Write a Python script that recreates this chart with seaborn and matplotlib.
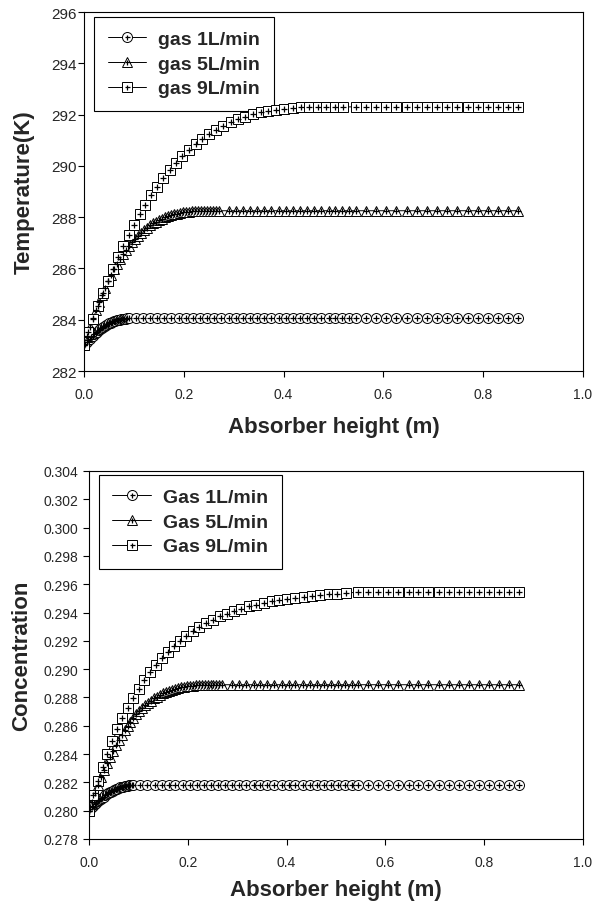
import matplotlib
matplotlib.use('Agg')
import matplotlib.pyplot as plt
from matplotlib.lines import Line2D
from matplotlib.ticker import FormatStrFormatter, MultipleLocator
import pandas as pd
import seaborn as sns

# ---- absorber height (m) ----
x_1L_rise = [0.000, 0.003, 0.006, 0.009, 0.012, 0.015, 0.018, 0.021, 0.024, 0.027,
             0.030, 0.033, 0.036, 0.039, 0.042, 0.045, 0.048, 0.051, 0.054, 0.057,
             0.060, 0.063, 0.066, 0.069, 0.072, 0.075, 0.078, 0.081, 0.084, 0.087, 0.090]
x_5L_rise = [0.000, 0.006, 0.012, 0.018, 0.024, 0.030, 0.036, 0.042, 0.048, 0.054,
             0.060, 0.066, 0.072, 0.078, 0.084, 0.090, 0.096, 0.102, 0.108, 0.114,
             0.120, 0.126, 0.132, 0.138, 0.144, 0.150, 0.156, 0.162, 0.168, 0.174,
             0.180, 0.186, 0.192, 0.198, 0.204, 0.210, 0.216, 0.222, 0.228, 0.234,
             0.240, 0.246, 0.252, 0.258, 0.264, 0.270]
x_9L_rise = [0.0000, 0.0090, 0.0182, 0.0277, 0.0374, 0.0473, 0.0574, 0.0678, 0.0784, 0.0892,
             0.1003, 0.1116, 0.1231, 0.1349, 0.1468, 0.1590, 0.1715, 0.1841, 0.1970, 0.2102,
             0.2235, 0.2371, 0.2509, 0.2649, 0.2792, 0.2937, 0.3084, 0.3234, 0.3386, 0.3540,
             0.3696, 0.3855, 0.4016, 0.4179, 0.4345, 0.4513, 0.4683, 0.4855, 0.5030, 0.5200]
x_mid = [0.104, 0.118, 0.133, 0.147, 0.161, 0.175, 0.190, 0.204, 0.218, 0.233,
         0.247, 0.261, 0.275, 0.290, 0.304, 0.318, 0.333, 0.347, 0.361, 0.375,
         0.390, 0.404, 0.418, 0.433, 0.447, 0.461, 0.475, 0.490, 0.504, 0.518, 0.532]
x_tail = [0.545, 0.565, 0.586, 0.606, 0.626, 0.647, 0.667, 0.687, 0.708, 0.728,
          0.748, 0.769, 0.789, 0.809, 0.830, 0.850, 0.870]

# ---- temperature (K) ----
T_1L_rise = [283.000, 283.069, 283.135, 283.200, 283.261, 283.321, 283.378, 283.433, 283.485, 283.536,
             283.583, 283.629, 283.672, 283.713, 283.751, 283.788, 283.821, 283.853, 283.882, 283.909,
             283.933, 283.956, 283.975, 283.993, 284.008, 284.021, 284.031, 284.040, 284.045, 284.049,
             284.050]
T_5L_rise = [283.000, 283.375, 283.731, 284.069, 284.389, 284.691, 284.976, 285.245, 285.498, 285.736,
             285.959, 286.168, 286.364, 286.546, 286.715, 286.873, 287.018, 287.153, 287.277, 287.391,
             287.495, 287.591, 287.677, 287.755, 287.825, 287.889, 287.945, 287.995, 288.039, 288.077,
             288.110, 288.139, 288.163, 288.183, 288.200, 288.213, 288.224, 288.232, 288.239, 288.243,
             288.246, 288.248, 288.249, 288.250, 288.250, 288.250]
T_9L_rise = [283.00, 283.52, 284.03, 284.54, 285.03, 285.51, 285.98, 286.43, 286.88, 287.30,
             287.71, 288.11, 288.49, 288.85, 289.19, 289.51, 289.82, 290.10, 290.37, 290.62,
             290.84, 291.05, 291.24, 291.41, 291.57, 291.70, 291.82, 291.92, 292.01, 292.09,
             292.15, 292.19, 292.23, 292.26, 292.28, 292.29, 292.30, 292.30, 292.30, 292.30]
T_plateau = {'1L': 284.05, '5L': 288.25, '9L': 292.30}

# ---- concentration ----
C_1L_rise = [0.28000, 0.28012, 0.28023, 0.28034, 0.28045, 0.28055, 0.28065, 0.28074, 0.28083, 0.28092,
             0.28100, 0.28108, 0.28115, 0.28122, 0.28129, 0.28135, 0.28141, 0.28146, 0.28151, 0.28156,
             0.28160, 0.28164, 0.28167, 0.28170, 0.28173, 0.28175, 0.28177, 0.28178, 0.28179, 0.28180,
             0.28180]
C_5L_rise = [0.28000, 0.28064, 0.28124, 0.28181, 0.28235, 0.28287, 0.28335, 0.28381, 0.28423, 0.28464,
             0.28502, 0.28537, 0.28570, 0.28601, 0.28630, 0.28657, 0.28681, 0.28704, 0.28725, 0.28744,
             0.28762, 0.28778, 0.28793, 0.28806, 0.28818, 0.28829, 0.28838, 0.28847, 0.28854, 0.28861,
             0.28866, 0.28871, 0.28875, 0.28879, 0.28882, 0.28884, 0.28886, 0.28887, 0.28888, 0.28889,
             0.28889, 0.28890, 0.28890, 0.28890, 0.28890, 0.28890]
C_9L_rise = [0.28000, 0.28108, 0.28211, 0.28310, 0.28403, 0.28491, 0.28574, 0.28653, 0.28727, 0.28796,
             0.28861, 0.28921, 0.28977, 0.29030, 0.29078, 0.29123, 0.29164, 0.29202, 0.29237, 0.29270,
             0.29299, 0.29326, 0.29350, 0.29373, 0.29393, 0.29411, 0.29428, 0.29443, 0.29456, 0.29468,
             0.29479, 0.29489, 0.29497, 0.29505, 0.29512, 0.29518, 0.29523, 0.29528, 0.29532, 0.29536]
C_plateau = {'1L': 0.28180, '5L': 0.28890, '9L': 0.29545}

flows = ['1L', '5L', '9L']
markers = {'1L': ('o', 7.2), '5L': ('^', 7.6), '9L': ('s', 6.6)}


def series_xy(flow, rise_y, level):
    # rising part, then the flat part continuing to the end of the column
    if flow == '1L':
        xs, flat = x_1L_rise, x_mid + x_tail
    elif flow == '5L':
        xs, flat = x_5L_rise, [v for v in x_mid if v > 0.28] + x_tail
    else:
        xs, flat = x_9L_rise, x_tail
    x = list(xs) + flat
    y = list(rise_y) + [level] * len(flat)
    return pd.DataFrame({'x': x, 'y': y})


def draw(ax, flow, df):
    m, ms = markers[flow]
    sns.lineplot(data=df, x='x', y='y', ax=ax, sort=False, estimator=None,
                 color='black', linewidth=0.7, marker=m, markersize=ms,
                 markerfacecolor='white', markeredgecolor='black', markeredgewidth=0.7)
    sns.scatterplot(data=df, x='x', y='y', ax=ax, marker='+', s=13,
                    color='black', linewidth=0.9, zorder=3)


def legend_handles():
    hs = []
    for f in flows:
        m, ms = markers[f]
        h1 = Line2D([], [], color='black', lw=0.7, marker=m, markersize=ms,
                    markerfacecolor='white', markeredgecolor='black', markeredgewidth=0.7)
        h2 = Line2D([], [], ls='', marker='+', markersize=3.6, color='black', markeredgewidth=0.9)
        hs.append((h1, h2))
    return hs


sns.set_style('white')
plt.rcParams['font.family'] = ['Liberation Sans', 'DejaVu Sans']

fig = plt.figure(figsize=(6.06, 9.04), dpi=100)
ax1 = fig.add_axes([84 / 606, 1 - 372 / 904, 499 / 606, 359 / 904])
ax2 = fig.add_axes([89 / 606, 1 - 840 / 904, 494 / 606, 368 / 904])

rise_T = {'1L': T_1L_rise, '5L': T_5L_rise, '9L': T_9L_rise}
rise_C = {'1L': C_1L_rise, '5L': C_5L_rise, '9L': C_9L_rise}
for f in flows:
    draw(ax1, f, series_xy(f, rise_T[f], T_plateau[f]))
    draw(ax2, f, series_xy(f, rise_C[f], C_plateau[f]))

for ax in (ax1, ax2):
    ax.set_xlim(0, 1.0)
    ax.xaxis.set_major_locator(MultipleLocator(0.2))
    ax.xaxis.set_major_formatter(FormatStrFormatter('%.1f'))
    ax.tick_params(direction='out', length=4, width=0.8, color='black',
                   labelsize=10, bottom=True, left=True)
    ax.tick_params(axis='x', pad=7.5)
    for s in ax.spines.values():
        s.set_color('black')
        s.set_linewidth(0.8)

ax1.set_xlabel('Absorber height (m)', fontsize=16, fontweight='bold', labelpad=10.5)
ax2.set_xlabel('Absorber height (m)', fontsize=16, fontweight='bold', labelpad=7)

ax1.set_ylim(282, 296)
ax1.yaxis.set_major_locator(MultipleLocator(2))
ax1.tick_params(axis='y', labelsize=11, pad=1)
ax1.set_ylabel('Temperature(K)', fontsize=16, fontweight='bold', labelpad=12)

ax2.set_ylim(0.278, 0.304)
ax2.yaxis.set_major_locator(MultipleLocator(0.002))
ax2.yaxis.set_major_formatter(FormatStrFormatter('%.3f'))
ax2.set_ylabel('Concentration', fontsize=16, fontweight='bold', labelpad=8)

leg_kw = dict(loc='upper left', frameon=True, fancybox=False, edgecolor='black',
              framealpha=1, prop={'weight': 'bold', 'size': 14}, handlelength=2.0,
              handletextpad=0.6, borderpad=0.7, labelspacing=0.36, borderaxespad=0)
l1 = ax1.legend(legend_handles(), ['gas 1L/min', 'gas 5L/min', 'gas 9L/min'],
                bbox_to_anchor=(0.02, 0.986), **leg_kw)
l2 = ax2.legend(legend_handles(), ['Gas 1L/min', 'Gas 5L/min', 'Gas 9L/min'],
                bbox_to_anchor=(0.02, 0.989), **leg_kw)
for l in (l1, l2):
    l.get_frame().set_linewidth(0.8)
    l.set_zorder(1)

fig.savefig('out.png', dpi=100)
